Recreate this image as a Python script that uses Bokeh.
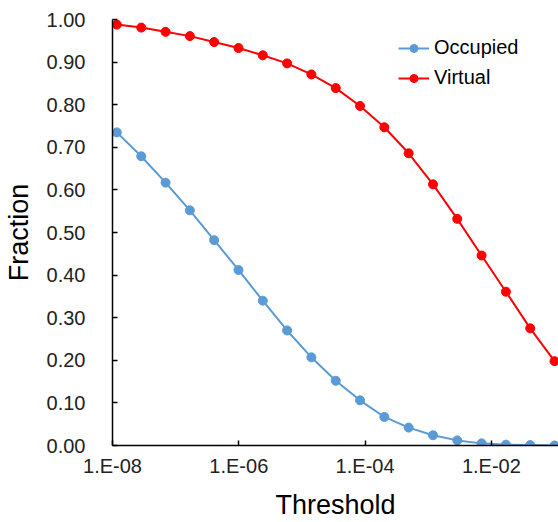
from bokeh.plotting import figure
from bokeh.models import (Range1d, FixedTicker, CustomJSTickFormatter,
                          NumeralTickFormatter, Legend, LegendItem)
from bokeh.embed import file_html
from bokeh.resources import INLINE

# ---- data ----
threshold = [1.17e-08, 2.85e-08, 6.92e-08, 1.68e-07, 4.07e-07, 9.89e-07,
             2.40e-06, 5.82e-06, 1.41e-05, 3.43e-05, 8.32e-05, 2.02e-04,
             4.90e-04, 1.19e-03, 2.88e-03, 7.00e-03, 1.70e-02, 4.12e-02,
             1.00e-01]
occupied = [0.735, 0.679, 0.617, 0.552, 0.482, 0.412, 0.340, 0.270, 0.207,
            0.152, 0.106, 0.067, 0.042, 0.024, 0.012, 0.005, 0.002, 0.001,
            0.000]
virtual = [0.988, 0.981, 0.971, 0.961, 0.947, 0.933, 0.916, 0.897, 0.871,
           0.839, 0.797, 0.747, 0.686, 0.613, 0.532, 0.446, 0.361, 0.275,
           0.198]
x_tick_values = [1e-08, 1e-06, 1e-04, 1e-02]
x_tick_labels = ["1.E-08", "1.E-06", "1.E-04", "1.E-02"]
y_tick_values = [0.0, 0.1, 0.2, 0.3, 0.4, 0.5, 0.6, 0.7, 0.8, 0.9, 1.0]
series_names = ["Occupied", "Virtual"]
series_colors = ["#5B9BD5", "#FF0000"]

FONT = "Liberation Sans"

p = figure(width=558, height=522, x_axis_type="log",
           output_backend="svg", toolbar_location=None,
           x_range=Range1d(1e-08, 0.1156), y_range=Range1d(0, 1.0),
           min_border_left=111, min_border_right=0,
           min_border_top=19, min_border_bottom=75)
p.outline_line_color = None
p.grid.visible = False
p.background_fill_color = "white"
p.border_fill_color = "white"

items = []
for name, ys, col in zip(series_names, [occupied, virtual], series_colors):
    r1 = p.line(threshold, ys, line_color=col, line_width=2)
    r2 = p.scatter(threshold, ys, size=9, fill_color=col, line_color=col)
    items.append(LegendItem(label=name, renderers=[r1, r2]))

xa = p.xaxis[0]
xa.ticker = FixedTicker(ticks=x_tick_values, minor_ticks=[])
xa.formatter = CustomJSTickFormatter(
    args=dict(vals=x_tick_values, labs=x_tick_labels),
    code="""
    let best = 0, bd = 1e9;
    for (let i = 0; i < vals.length; i++) {
        const d = Math.abs(Math.log10(tick) - Math.log10(vals[i]));
        if (d < bd) { bd = d; best = i; }
    }
    return labs[best];
    """)
ya = p.yaxis[0]
ya.ticker = FixedTicker(ticks=y_tick_values, minor_ticks=[])
ya.formatter = NumeralTickFormatter(format="0.00")

for ax in (xa, ya):
    ax.axis_line_color = "black"
    ax.axis_line_width = 1.5
    ax.major_tick_line_color = "black"
    ax.major_tick_line_width = 1.5
    ax.major_tick_in = 5
    ax.major_tick_out = 0
    ax.minor_tick_line_color = None
    ax.major_label_text_font = FONT
    ax.major_label_text_font_size = "20px"
    ax.major_label_text_color = "#222222"
    ax.axis_label_text_font = FONT
    ax.axis_label_text_font_size = "27px"
    ax.axis_label_text_font_style = "normal"
    ax.axis_label_text_color = "black"

xa.axis_label = "Threshold"
ya.axis_label = "Fraction"
xa.major_label_standoff = 9
ya.major_label_standoff = 27
xa.axis_label_standoff = 10
ya.axis_label_standoff = 10

legend = Legend(items=items, location=(286, 356))
legend.label_text_font = FONT
legend.label_text_font_size = "20px"
legend.label_text_color = "black"
legend.border_line_color = None
legend.background_fill_alpha = 0
legend.glyph_width = 31
legend.glyph_height = 20
legend.label_height = 20
legend.spacing = 7
legend.padding = 5
legend.margin = 0
legend.label_standoff = 5
p.add_layout(legend)

open("out.html", "w").write(file_html(p, INLINE))
